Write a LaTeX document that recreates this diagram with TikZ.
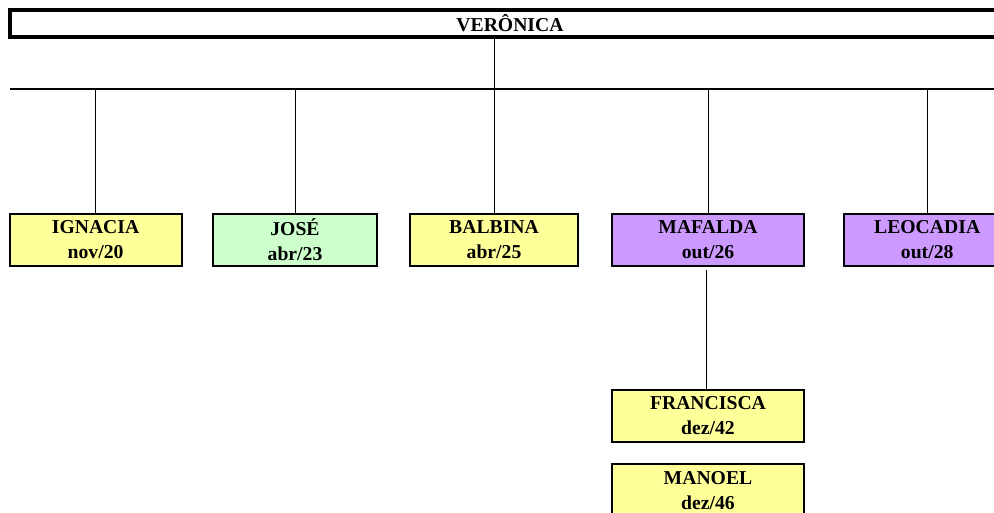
\documentclass[tikz,border=0pt]{standalone}
\usepackage{fontspec}
\setmainfont{Liberation Serif}
\usepackage{xcolor}
\usetikzlibrary{positioning}
\definecolor{famyellow}{HTML}{FFFF99}
\definecolor{famgreen}{HTML}{CCFFCC}
\definecolor{fampurple}{HTML}{CC99FF}
\tikzset{
  pbox/.style={draw=black,line width=1.5pt,align=center,minimum height=1.3cm,inner sep=0pt,font=\fontsize{14}{17.7}\selectfont\bfseries},
  ptop/.style={draw=black,line width=2.2pt,fill=white,minimum height=0.675cm,minimum width=25.0cm,inner sep=0pt,font=\fontsize{14}{17.7}\selectfont\bfseries},
  plink/.style={line width=0.6pt,draw=black},
  pbus/.style={line width=2pt,draw=black}
}

\begin{document}
\begin{tikzpicture}
  \useasboundingbox (0,0) rectangle (24.85,-12.825);
  % root
  \node[ptop] (veronica) at (12.75,-0.5875) {VERÔNICA};
  % children
  \node[pbox,fill=famyellow,minimum width=4.3cm] (ignacia) at (2.39,-6.0) {IGNACIA\\nov/20};
  \node[pbox,fill=famgreen,minimum width=4.1cm] (jose) at (7.375,-6.0) {JOSÉ\\abr/23};
  \node[pbox,fill=famyellow,minimum width=4.2cm] (balbina) at (12.35,-6.0) {BALBINA\\abr/25};
  \node[pbox,fill=fampurple,minimum width=4.8cm] (mafalda) at (17.7,-6.0) {MAFALDA\\out/26};
  \node[pbox,fill=fampurple,minimum width=4.15cm] (leocadia) at (23.18,-6.0) {LEOCADIA\\out/28};
  % grandchildren
  \node[pbox,fill=famyellow,minimum width=4.8cm] (francisca) at (17.7,-10.39) {FRANCISCA\\dez/42};
  \node[pbox,fill=famyellow,minimum width=4.8cm] (manoel) at (17.7,-12.26) {MANOEL\\dez/46};
  % bus
  \coordinate (busL) at (0.25,-2.225);
  \coordinate (busR) at (25.2,-2.225);
  \draw[pbus] (busL) -- (busR);
  \draw[plink] (veronica.south -| balbina.north) -- (balbina.north);
  \foreach \kid in {ignacia,jose,mafalda,leocadia}
    \draw[plink] (\kid.north |- busL) -- (\kid.north);
  \draw[plink] ([xshift=-0.05cm,yshift=-0.08cm]mafalda.south) -- ([xshift=-0.05cm]francisca.north);
\end{tikzpicture}
\end{document}
